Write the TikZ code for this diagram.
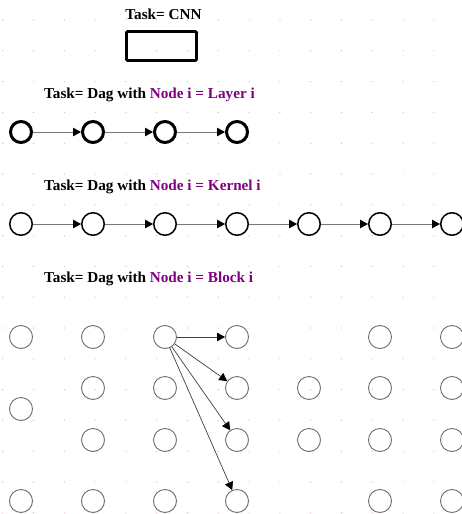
\documentclass[tikz,border=0pt]{standalone}
\usepackage{fontspec}
\setmainfont{Liberation Serif}
\usetikzlibrary{arrows.meta}
\definecolor{nodepurple}{RGB}{128,0,128}
\definecolor{gridpink}{RGB}{248,160,160}
\definecolor{linkgray}{RGB}{120,120,120}
\definecolor{blockgray}{RGB}{110,110,110}

\begin{document}
\begin{tikzpicture}[x=1pt,y=-1pt,
  heading/.style={font=\bfseries\fontsize{15.2}{18}\selectfont, inner sep=0pt, anchor=west},
  layervert/.style={circle, draw=black, line width=3pt, minimum size=21pt, inner sep=0pt},
  kernelvert/.style={circle, draw=black, line width=1.5pt, minimum size=22.5pt, inner sep=0pt},
  blockvert/.style={circle, draw=blockgray, line width=0.9pt, minimum size=23pt, inner sep=0pt},
  link/.style={draw=linkgray, line width=1pt, -{Triangle[length=8pt,width=8.5pt,color=black]}},
  blocklink/.style={draw=black!75, line width=0.7pt, -{Triangle[length=8pt,width=8.5pt,color=black]}}
]
\clip (0,0) rectangle (462,514);
\useasboundingbox (0,0) rectangle (462,514);
\fill[white] (0,0) rectangle (462,514);

% background grid dots
\foreach \i in {0,...,14}
  \foreach \j in {0,...,16}
    \fill[gridpink] ({2.7+30.8*\i},{20+30.8*\j}) circle (0.6pt);

% CNN as a single box
\node[heading, anchor=center] (cnntitle) at (163.5,14) {Task= CNN};
\node[draw=black, line width=2.8pt, rounded corners=1pt, minimum width=70pt, minimum height=29pt, inner sep=0pt] (cnnbox) at (161.5,46) {};

% DAG of layers
\node[heading] (layertitle) at (44,95) {Task= Dag with \textcolor{nodepurple}{Node i = Layer i}};
\foreach \k/\x in {1/21,2/93,3/165,4/237}
  \node[layervert] (L\k) at (\x,132) {};
\foreach \a/\b in {1/2,2/3,3/4}
  \draw[link] (L\a) -- (L\b);

% DAG of kernels
\node[heading] (kerneltitle) at (44,187) {Task= Dag with \textcolor{nodepurple}{Node i = Kernel i}};
\foreach \k/\x in {1/21,2/93,3/165,4/237,5/309,6/380,7/452}
  \node[kernelvert] (K\k) at (\x,224) {};
\foreach \a/\b in {1/2,2/3,3/4,4/5,5/6,6/7}
  \draw[link] (K\a) -- (K\b);

% DAG of blocks
\node[heading] (blocktitle) at (44,279) {Task= Dag with \textcolor{nodepurple}{Node i = Block i}};
\node[blockvert] (B0a) at (21,337) {};
\node[blockvert] (B0b) at (21,409) {};
\node[blockvert] (B0c) at (21,501) {};
\foreach \c/\x in {1/93,2/165,3/237,5/380,6/452}
  \foreach \r/\y in {a/337,b/388,c/440,d/501}
    \node[blockvert] (B\c\r) at (\x,\y) {};
\node[blockvert] (B4b) at (309,388) {};
\node[blockvert] (B4c) at (309,440) {};
\foreach \r in {a,b,c,d}
  \draw[blocklink] (B2a) -- (B3\r);
\end{tikzpicture}
\end{document}
